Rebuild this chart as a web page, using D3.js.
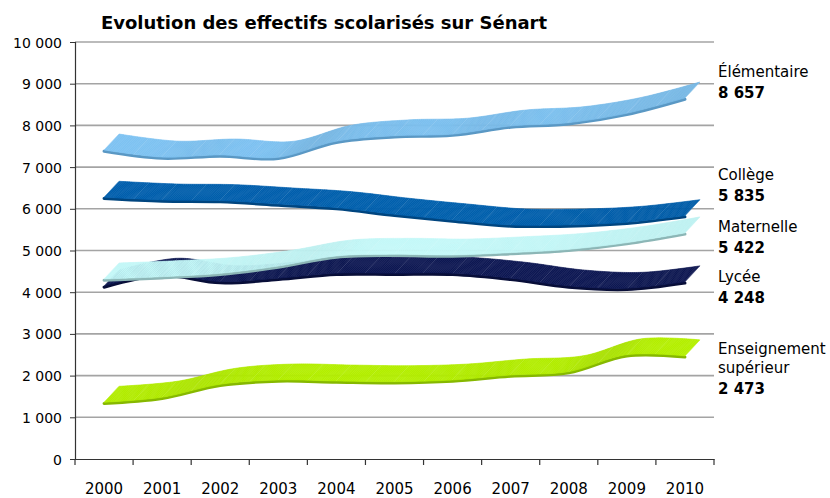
<!DOCTYPE html>
<html><head><meta charset="utf-8">
<script src="https://cdn.jsdelivr.net/npm/d3@7"></script>
<style>body{margin:0;background:#fff}svg{display:block}text{font-family:"DejaVu Sans",Verdana,sans-serif;fill:#000}</style>
</head><body><svg id="c" width="830" height="498"></svg>
<script>
const years = [2000,2001,2002,2003,2004,2005,2006,2007,2008,2009,2010];
const elementaire = [7410,7240,7290,7235,7620,7750,7790,7985,8065,8290,8657];
const college = [6276,6211,6195,6115,6027,5868,5731,5612,5612,5676,5835];
const lycee = [4149,4430,4253,4333,4453,4453,4453,4333,4149,4093,4248];
const maternelle = [4317,4372,4453,4628,4868,4908,4892,4948,5028,5188,5422];
const superieur = [1360,1480,1790,1894,1870,1854,1894,2014,2094,2500,2473];
const yTicks = [0,1000,2000,3000,4000,5000,6000,7000,8000,9000,10000];
const seriesNames = ["Élémentaire","Collège","Lycée","Maternelle","Enseignement supérieur"];
const labelLines = [["Élémentaire"],["Collège"],["Lycée"],["Maternelle"],["Enseignement","supérieur"]];
const lastLabels = ["8 657","5 835","4 248","5 422","2 473"];
const title = "Evolution des effectifs scolarisés sur Sénart";

const series = [
  {name:seriesNames[0], values:elementaire, top:"#7cc0ef", edge:"#5a98c4", lab:labelLines[0], last:lastLabels[0], ly:77},
  {name:seriesNames[1], values:college, top:"#005eab", edge:"#00457f", lab:labelLines[1], last:lastLabels[1], ly:180},
  {name:seriesNames[2], values:lycee, top:"#0d1752", edge:"#080e38", lab:labelLines[2], last:lastLabels[2], ly:282},
  {name:seriesNames[3], values:maternelle, top:"#c4f8f8", edge:"#8cb6b6", lab:labelLines[3], last:lastLabels[3], ly:232},
  {name:seriesNames[4], values:superieur, top:"#b3ee00", edge:"#86b800", lab:labelLines[4], last:lastLabels[4], ly:354}
];

const svg = d3.select("#c");
const L=75, R=714, T=42, B=459;
const x = d3.scaleBand().domain(years).range([L,R]);
const y = d3.scaleLinear().domain([0,10000]).range([B,T]);
const DX=15, DY=-16;
const fmt = v => d3.format(",")(v).replace(/,/g," ");

// gridlines
svg.append("g").selectAll("line").data(yTicks.filter(d=>d>0)).join("line")
  .attr("x1",L).attr("x2",R).attr("y1",d=>y(d)).attr("y2",d=>y(d))
  .attr("stroke","#a4a4a4").attr("stroke-width",1.6);

// y axis
const ya = svg.append("g").attr("transform",`translate(${L},0)`)
  .call(d3.axisLeft(y).tickValues(yTicks).tickFormat(fmt).tickSize(5).tickPadding(8));
ya.select(".domain").attr("stroke","#333").attr("stroke-width",1.2);
ya.selectAll(".tick line").attr("stroke","#333");
ya.selectAll("text").attr("font-size",14).attr("font-family","DejaVu Sans").attr("fill","#000").attr("dy","0.36em");

// x axis
const xa = svg.append("g").attr("transform",`translate(0,${B})`)
  .call(d3.axisBottom(x).tickSize(0).tickPadding(24));
xa.select(".domain").attr("stroke","#333").attr("stroke-width",1.2);
xa.selectAll("text").attr("font-size",15).attr("font-family","DejaVu Sans").attr("fill","#000");
svg.append("g").selectAll("line").data(d3.range(years.length+1)).join("line")
  .attr("x1",i=>L+i*x.step()).attr("x2",i=>L+i*x.step()).attr("y1",B).attr("y2",B+6)
  .attr("stroke","#333").attr("stroke-width",1.2);

// ribbons
const cx = yr => x(yr)+x.bandwidth()/2;
const lineGen = d3.line().x((d,i)=>cx(years[i])).y(d=>y(d)).curve(d3.curveCatmullRom.alpha(0.5));
const tmp = svg.append("path").attr("fill","none");
const gR = svg.append("g");
series.forEach(s=>{
  const dstr = lineGen(s.values);
  tmp.attr("d",dstr);
  const p = tmp.node(), len = p.getTotalLength();
  const N = Math.ceil(len/2);
  const pts = d3.range(N+1).map(k=>p.getPointAtLength(len*k/N));
  const g = gR.append("g");
  g.append("path").attr("d",dstr).attr("fill","none").attr("stroke",s.edge)
    .attr("stroke-width",3).attr("transform","translate(0,1.2)").attr("stroke-linecap","round");
  const base = d3.color(s.top);
  for(let k=0;k<N;k++){
    const a=pts[k], b=pts[k+1];
    const slope = (b.y-a.y)/Math.max(0.01,(b.x-a.x));
    let f = 1;
    if (slope<0) f = 1 - Math.min(0.1, -slope*0.16);
    else f = 1 + Math.min(0.04, slope*0.08);
    const c = d3.rgb(Math.min(255,base.r*f),Math.min(255,base.g*f),Math.min(255,base.b*f)).formatHex();
    const poly = [[a.x,a.y],[b.x,b.y],[b.x+DX,b.y+DY],[a.x+DX,a.y+DY]];
    g.append("path").attr("d","M"+poly.join("L")+"Z").attr("fill",c).attr("stroke",c).attr("stroke-width",0.6);
  }
  const half = d3.range(0,years.length-0.5,0.5);
  half.forEach(h=>{
    const xx = x(years[0])+x.bandwidth()/2 + h*x.step();
    let best=pts[0],bd=1e9; pts.forEach(q=>{const dd=Math.abs(q.x-xx); if(dd<bd){bd=dd;best=q;}});
    g.append("line").attr("x1",best.x).attr("y1",best.y).attr("x2",best.x+DX).attr("y2",best.y+DY)
      .attr("stroke","#ffffff").attr("stroke-opacity",0.12).attr("stroke-width",1);
  });
});
tmp.remove();

// labels
series.forEach(s=>{
  const t = svg.append("g");
  s.lab.forEach((ln,i)=>{
    t.append("text").attr("x",718).attr("y",s.ly+i*19).attr("font-size",15).text(ln);
  });
  t.append("text").attr("x",718).attr("y",s.ly+s.lab.length*19+1.5).attr("font-size",15)
    .attr("font-weight","bold").text(s.last);
});

// title
svg.append("text").attr("x",324).attr("y",29).attr("text-anchor","middle")
  .attr("font-size",18).attr("font-weight","bold").text(title);
</script></body></html>
